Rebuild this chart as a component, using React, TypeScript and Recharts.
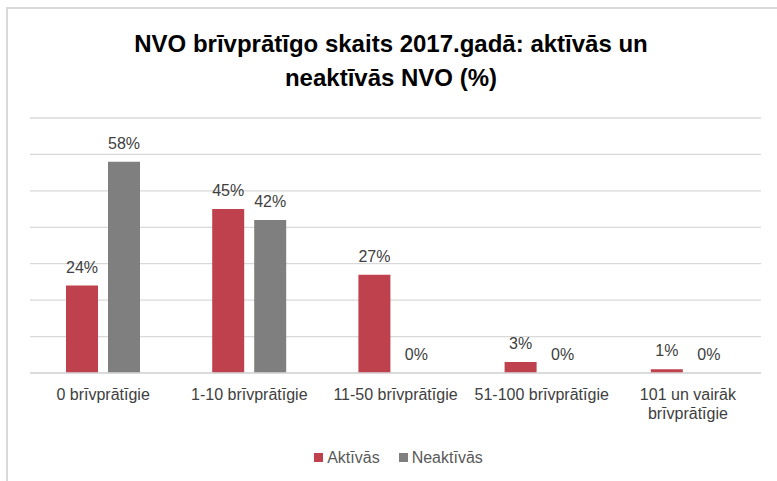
import React from "react";
import { BarChart, Bar, XAxis, YAxis, CartesianGrid, Legend, LabelList } from "recharts";

const categories = ["0 brīvprātīgie", "1-10 brīvprātīgie", "11-50 brīvprātīgie", "51-100 brīvprātīgie", "101 un vairāk\nbrīvprātīgie"];
const aktivas = [24, 45, 27, 3, 1];
const neaktivas = [58, 42, 0, 0, 0];
const yTicks = [0, 10, 20, 30, 40, 50, 60, 70];
const titleLines = ["NVO brīvprātīgo skaits 2017.gadā: aktīvās un", "neaktīvās NVO (%)"];
const seriesNames = ["Aktīvās", "Neaktīvās"];

const data = categories.map((c, i) => ({ name: c, a: aktivas[i], n: neaktivas[i] }));

const RED = "#be414d";
const GRAY = "#7f7f7f";
const FONT = "'Liberation Sans', Arial, sans-serif";

const Tick = (props: any) => {
  const { x, y, payload } = props;
  const lines = String(payload.value).split("\n");
  return (
    <text x={x} y={y} textAnchor="middle" fill="#404040" fontSize={16} fontFamily={FONT}>
      {lines.map((l: string, i: number) => (
        <tspan key={i} x={x} dy={19}>{l}</tspan>
      ))}
    </text>
  );
};

const LegendContent = (props: any) => {
  const { payload } = props;
  return (
    <div style={{ height: 47, display: "flex", justifyContent: "center", alignItems: "center", fontFamily: FONT, fontSize: 16, color: "#595959", paddingLeft: 6 }}>
      {(payload || []).map((p: any, i: number) => (
        <span key={i} style={{ display: "flex", alignItems: "center", marginRight: i === 0 ? 19 : 0 }}>
          <span style={{ width: 9, height: 9, background: p.color, display: "inline-block", marginRight: 4 }} />
          {p.value}
        </span>
      ))}
    </div>
  );
};

const ValueLabel = (props: any) => {
  const { x, y, width, value } = props;
  if (value === undefined || value === null) return null;
  return (
    <text x={Number(x) + Number(width) / 2} y={Number(y) - 13} textAnchor="middle" fill="#404040" fontSize={16} fontFamily={FONT}>
      {`${value}%`}
    </text>
  );
};

export default function App() {
  return (
    <div style={{ position: "fixed", left: 0, top: 0, width: 777, height: 481, background: "#fff", overflow: "hidden" }}>
      <div style={{ position: "absolute", left: 6, top: 7, width: 900, height: 600, borderLeft: "2px solid #d9d9d9", borderTop: "2px solid #d9d9d9" }} />
      <div style={{ position: "absolute", left: 0, top: 27, width: 777, textAlign: "center", fontFamily: FONT, fontWeight: "bold", fontSize: 24, lineHeight: "34px", color: "#000" }}>
        <div style={{ marginLeft: 5 }}>{titleLines[0]}</div>
        <div style={{ marginLeft: 5 }}>{titleLines[1]}</div>
      </div>
      <div style={{ position: "absolute", left: 0, top: 0 }}>
        <BarChart width={777} height={481} data={data} margin={{ top: 118, right: 16, left: 30, bottom: 0 }} barSize={32} barGap={10}>
          <CartesianGrid vertical={false} stroke="#d9d9d9" strokeWidth={1.3} />
          <YAxis hide domain={[0, 70]} ticks={yTicks} />
          <XAxis dataKey="name" axisLine={{ stroke: "#d9d9d9", strokeWidth: 1.3 }} tickLine={false} height={61} tick={<Tick />} interval={0} />
          <Legend verticalAlign="bottom" height={47} content={<LegendContent />} />
          <Bar dataKey="a" name={seriesNames[0]} fill={RED} isAnimationActive={false} minPointSize={0.01}>
            <LabelList dataKey="a" content={<ValueLabel />} />
          </Bar>
          <Bar dataKey="n" name={seriesNames[1]} fill={GRAY} isAnimationActive={false} minPointSize={0.01}>
            <LabelList dataKey="n" content={<ValueLabel />} />
          </Bar>
        </BarChart>
      </div>
    </div>
  );
}
